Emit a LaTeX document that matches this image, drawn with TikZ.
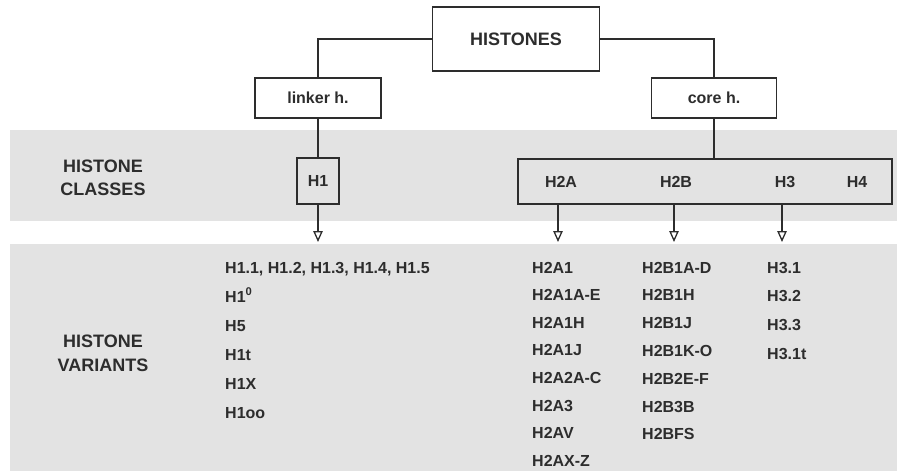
\documentclass[tikz,border=0pt]{standalone}
\usepackage{fontspec}
\setmainfont{Liberation Sans}
\usetikzlibrary{positioning,arrows.meta}

\definecolor{bandgray}{RGB}{227,227,227}
\definecolor{inkgray}{RGB}{45,45,45}

\tikzset{
  box/.style={draw=inkgray, line width=1.3pt, fill=white, text=inkgray,
    font=\fontsize{16}{19}\selectfont\bfseries, inner sep=0pt},
  classname/.style={text=inkgray, font=\fontsize{16}{19}\selectfont\bfseries, inner sep=0pt},
  variant/.style={text=inkgray, font=\fontsize{16}{19}\selectfont\bfseries, inner sep=0pt, anchor=base west},
  sidelabel/.style={text=inkgray, font=\fontsize{18}{23}\selectfont\bfseries, align=center, inner sep=0pt},
  arr/.style={draw=inkgray, line width=1.3pt, -{Triangle[open, width=9.5pt, length=11pt, line width=1.3pt]}}
}

\begin{document}
\begin{tikzpicture}[x=1pt, y=-1pt]
  \useasboundingbox (0,0) rectangle (897,471);

  % --- Dải nền xám ---
  \fill[bandgray] (10,130) rectangle (897,221);
  \fill[bandgray] (10,244) rectangle (897,471);

  % --- Cây phía trên ---
  \node[box, minimum width=167pt, minimum height=64pt,
        font=\fontsize{18}{22}\selectfont\bfseries] (root) at (516,39) {HISTONES};
  \node[box, minimum width=126pt, minimum height=40pt] (linker) at (318,98) {linker h.};
  \node[box, minimum width=125pt, minimum height=40pt] (core) at (714,98) {core h.};

  \draw[inkgray, line width=1.3pt] (root.west) -| (linker.north);
  \draw[inkgray, line width=1.3pt] (root.east) -| (core.north);

  % --- Hàng lớp histone ---
  \node[sidelabel] (classlbl) at (103,178) {HISTONE\\CLASSES};

  \node[box, fill=none, minimum width=42pt, minimum height=46pt] (h1) at (318,181) {H1};
  \node[box, fill=none, minimum width=374pt, minimum height=45pt] (classbox) at (705,181.5) {};

  \node[classname] (h2a) at (561,182) {H2A};
  \node[classname] (h2b) at (676,182) {H2B};
  \node[classname] (h3)  at (785,182) {H3};
  \node[classname] (h4)  at (857,182) {H4};

  \draw[inkgray, line width=1.3pt] (linker.south) -- (h1.north);
  \draw[inkgray, line width=1.3pt] (core.south) -- (core.south |- classbox.north);

  % --- Mũi tên xuống hàng biến thể ---
  \coordinate (tip1) at (318,242);
  \draw[arr] (h1.south) -- (tip1);
  \foreach \name/\x in {a/558, b/674, c/782} {
    \coordinate (tip\name) at (\x,242);
    \draw[arr] (tip\name |- classbox.south) -- (tip\name);
  }

  % --- Hàng biến thể histone ---
  \node[sidelabel, font=\fontsize{18}{24}\selectfont\bfseries] (varlbl) at (103,353.5) {HISTONE\\VARIANTS};

  % Cột H1
  \foreach \t [count=\i from 0] in {{H1.1, H1.2, H1.3, H1.4, H1.5}, H1\textsuperscript{0}, H5, H1t, H1X, H1oo} {
    \node[variant] (vh1-\i) at (225, 273+29*\i) {\t};
  }
  % Cột H2A
  \foreach \t [count=\i from 0] in {H2A1, H2A1A-E, H2A1H, H2A1J, H2A2A-C, H2A3, H2AV, H2AX-Z} {
    \node[variant] (vha-\i) at (532, 273+27.6*\i) {\t};
  }
  % Cột H2B
  \foreach \t [count=\i from 0] in {H2B1A-D, H2B1H, H2B1J, H2B1K-O, H2B2E-F, H2B3B, H2BFS} {
    \node[variant] (vhb-\i) at (642, 273+27.8*\i) {\t};
  }
  % Cột H3
  \foreach \t [count=\i from 0] in {H3.1, H3.2, H3.3, H3.1t} {
    \node[variant] (vhc-\i) at (767, 273+28.7*\i) {\t};
  }

\end{tikzpicture}
\end{document}
